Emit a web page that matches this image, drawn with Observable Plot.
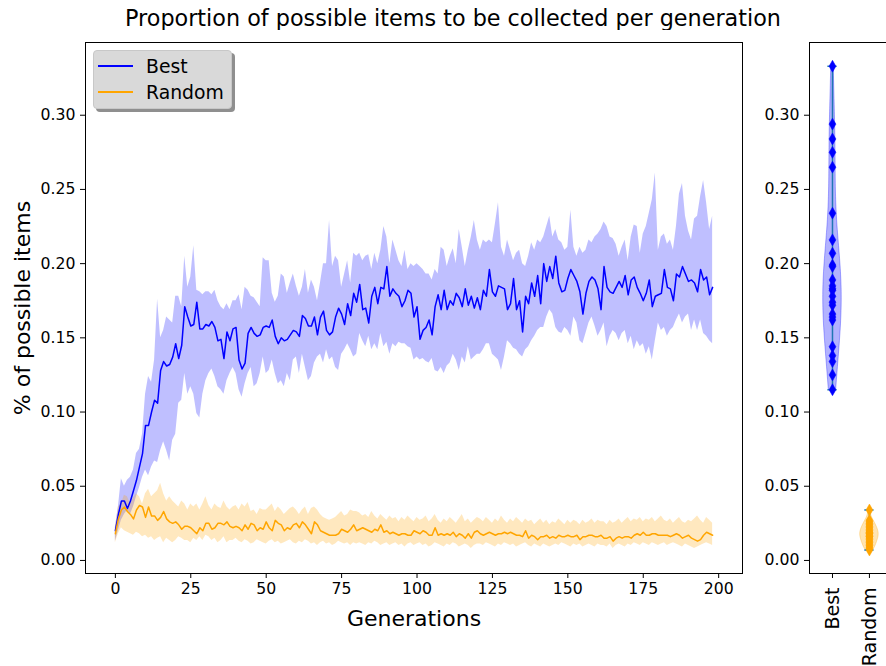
<!DOCTYPE html>
<html><head><meta charset="utf-8">
<script src="https://cdn.jsdelivr.net/npm/d3@7"></script>
<script src="https://cdn.jsdelivr.net/npm/@observablehq/plot@0.6"></script>
<style>
html,body{margin:0;padding:0;background:#fff;}
body{width:886px;height:666px;overflow:hidden;position:relative;font-family:"DejaVu Sans",sans-serif;color:#000;}
#title{position:absolute;left:10px;top:0;width:886px;text-align:center;font-size:22.3px;line-height:36px;white-space:nowrap;}
#main{position:absolute;left:0;top:30px;width:748px;}
#side{position:absolute;left:748px;top:30px;width:150px;}
#main svg,#side svg{max-width:none !important;}
#side g[aria-label="x-axis tick label"]{font-size:19px;}
#legend{position:absolute;left:93px;top:50px;width:137px;height:57px;background:#d9d9d9;border:1px solid #c8c8c8;border-radius:4px;box-shadow:3px 3px 0 #8f8f8f;font-size:18.8px;}
.row{position:absolute;left:4px;height:24px;display:flex;align-items:center;}
.sw{width:35px;height:2px;margin-right:13px;}
</style></head><body>
<div id="title">Proportion of possible items to be collected per generation</div>
<div id="main"></div>
<div id="side"></div>
<div id="legend"></div>
<script>
// ---- data: Best (mean, lower band, upper band) per generation ----
const bestMean = [
0.020,0.031,0.040,0.040,0.035,0.040,0.047,0.054,0.063,0.072,0.091,0.091,0.100,0.108,0.106,0.128,0.134,0.131,0.132,0.137,
0.146,0.136,0.145,0.171,0.164,0.158,0.159,0.174,0.156,0.156,0.159,0.158,0.161,0.157,0.148,0.149,0.136,0.154,0.148,0.156,0.157,
0.135,0.129,0.133,0.153,0.157,0.153,0.151,0.152,0.157,0.158,0.157,0.162,0.151,0.146,0.150,0.148,0.149,0.152,0.155,0.154,
0.151,0.165,0.163,0.158,0.158,0.164,0.152,0.164,0.168,0.155,0.152,0.154,0.164,0.170,0.166,0.159,0.173,0.165,0.180,0.174,
0.186,0.169,0.170,0.160,0.178,0.184,0.173,0.184,0.183,0.198,0.178,0.183,0.180,0.178,0.171,0.175,0.182,0.180,0.164,0.171,
0.149,0.155,0.157,0.162,0.152,0.171,0.179,0.169,0.182,0.169,0.175,0.172,0.180,0.177,0.171,0.183,0.172,0.178,0.170,0.177,
0.169,0.182,0.178,0.196,0.181,0.178,0.185,0.184,0.183,0.169,0.173,0.190,0.169,0.175,0.154,0.178,0.173,0.187,0.178,0.192,
0.173,0.200,0.188,0.198,0.190,0.205,0.187,0.181,0.182,0.190,0.196,0.192,0.188,0.181,0.166,0.180,0.188,0.191,0.189,0.183,0.169,
0.198,0.184,0.181,0.180,0.184,0.188,0.184,0.192,0.179,0.189,0.191,0.184,0.180,0.175,0.180,0.189,0.171,0.178,0.179,0.180,
0.196,0.184,0.183,0.175,0.193,0.191,0.198,0.193,0.188,0.189,0.187,0.181,0.196,0.189,0.191,0.179,0.184];
const bestLow = [
0.013,0.020,0.027,0.031,0.034,0.031,0.036,0.043,0.049,0.056,0.061,0.057,0.063,0.067,0.066,0.074,0.080,0.074,0.067,0.081,
0.085,0.106,0.108,0.126,0.112,0.117,0.112,0.099,0.096,0.112,0.121,0.126,0.129,0.124,0.117,0.115,0.112,0.121,0.126,0.130,0.126,
0.115,0.110,0.119,0.126,0.130,0.117,0.119,0.126,0.137,0.126,0.128,0.135,0.126,0.119,0.121,0.117,0.126,0.121,0.135,0.137,
0.126,0.139,0.130,0.121,0.124,0.133,0.137,0.139,0.133,0.142,0.135,0.137,0.130,0.128,0.139,0.142,0.146,0.142,0.137,0.139,
0.153,0.148,0.144,0.151,0.142,0.146,0.142,0.153,0.144,0.147,0.139,0.146,0.144,0.147,0.146,0.146,0.144,0.143,0.135,0.137,
0.135,0.136,0.134,0.133,0.136,0.128,0.127,0.130,0.126,0.131,0.133,0.139,0.135,0.128,0.137,0.133,0.144,0.135,0.137,0.139,
0.139,0.142,0.146,0.146,0.139,0.137,0.135,0.128,0.137,0.148,0.146,0.143,0.142,0.139,0.137,0.142,0.144,0.148,0.151,0.155,
0.157,0.157,0.164,0.169,0.166,0.157,0.154,0.153,0.157,0.155,0.151,0.164,0.160,0.148,0.146,0.153,0.160,0.164,0.158,0.151,0.155,
0.160,0.144,0.151,0.155,0.153,0.148,0.153,0.155,0.146,0.151,0.142,0.148,0.144,0.146,0.139,0.144,0.135,0.148,0.160,0.155,
0.157,0.151,0.155,0.157,0.162,0.166,0.160,0.164,0.166,0.155,0.162,0.155,0.162,0.153,0.151,0.148,0.146];
const bestHigh = [
0.022,0.036,0.055,0.050,0.054,0.056,0.061,0.072,0.075,0.085,0.112,0.124,0.120,0.135,0.176,0.150,0.155,0.164,0.162,0.160,
0.178,0.178,0.171,0.205,0.184,0.191,0.212,0.182,0.181,0.179,0.181,0.181,0.179,0.182,0.175,0.171,0.169,0.173,0.169,0.175,0.175,
0.179,0.169,0.184,0.182,0.178,0.177,0.174,0.171,0.204,0.202,0.202,0.180,0.174,0.178,0.193,0.191,0.180,0.187,0.193,0.185,
0.178,0.184,0.196,0.180,0.189,0.184,0.175,0.187,0.200,0.200,0.229,0.198,0.205,0.202,0.184,0.193,0.202,0.187,0.207,0.205,
0.207,0.202,0.205,0.206,0.196,0.207,0.200,0.209,0.225,0.218,0.200,0.216,0.209,0.202,0.198,0.209,0.196,0.200,0.198,0.200,
0.198,0.196,0.193,0.193,0.189,0.196,0.193,0.211,0.209,0.198,0.205,0.210,0.200,0.223,0.211,0.198,0.209,0.218,0.229,0.216,
0.209,0.216,0.214,0.216,0.214,0.227,0.241,0.211,0.205,0.216,0.209,0.202,0.207,0.209,0.200,0.198,0.205,0.214,0.209,0.216,
0.214,0.218,0.225,0.232,0.218,0.223,0.216,0.214,0.209,0.211,0.236,0.211,0.205,0.211,0.207,0.209,0.216,0.214,0.218,0.220,0.223,
0.228,0.225,0.218,0.217,0.213,0.205,0.211,0.216,0.202,0.218,0.226,0.225,0.207,0.220,0.225,0.234,0.243,0.261,0.209,0.218,
0.220,0.213,0.216,0.209,0.225,0.247,0.254,0.232,0.222,0.216,0.230,0.232,0.245,0.256,0.241,0.223,0.232];
// ---- data: Random (mean, lower band, upper band) per generation ----
const randMean = [
0.018,0.028,0.034,0.036,0.033,0.031,0.028,0.034,0.037,0.036,0.029,0.036,0.030,0.030,0.027,0.029,0.033,0.028,0.026,0.025,
0.026,0.024,0.021,0.023,0.023,0.022,0.020,0.018,0.022,0.020,0.025,0.025,0.021,0.022,0.025,0.025,0.024,0.026,0.023,0.022,0.023,
0.022,0.020,0.024,0.021,0.025,0.024,0.020,0.022,0.021,0.026,0.022,0.020,0.027,0.025,0.024,0.020,0.022,0.021,0.024,0.025,
0.022,0.026,0.024,0.021,0.018,0.026,0.024,0.020,0.019,0.018,0.017,0.017,0.017,0.018,0.021,0.020,0.019,0.021,0.024,0.020,
0.021,0.022,0.021,0.020,0.019,0.021,0.020,0.024,0.019,0.020,0.018,0.019,0.018,0.017,0.018,0.018,0.017,0.017,0.020,0.019,
0.018,0.020,0.019,0.017,0.017,0.022,0.017,0.018,0.017,0.018,0.017,0.019,0.016,0.018,0.017,0.015,0.018,0.015,0.019,0.020,
0.018,0.017,0.018,0.019,0.018,0.017,0.018,0.018,0.019,0.018,0.019,0.018,0.017,0.017,0.016,0.020,0.015,0.017,0.016,0.014,
0.016,0.016,0.017,0.015,0.016,0.015,0.017,0.016,0.016,0.017,0.016,0.016,0.017,0.014,0.016,0.016,0.017,0.017,0.016,0.016,0.017,
0.015,0.015,0.016,0.013,0.015,0.016,0.015,0.016,0.016,0.015,0.017,0.018,0.017,0.019,0.017,0.017,0.018,0.018,0.017,0.017,
0.017,0.017,0.016,0.017,0.018,0.017,0.015,0.016,0.017,0.015,0.014,0.013,0.014,0.017,0.019,0.018,0.017];
const randLow = [
0.012,0.018,0.022,0.020,0.019,0.018,0.017,0.019,0.018,0.016,0.017,0.015,0.016,0.0135,0.015,0.016,0.012,0.015,0.0135,0.012,
0.0135,0.016,0.015,0.0135,0.0135,0.012,0.015,0.0135,0.016,0.0135,0.017,0.016,0.0135,0.015,0.012,0.0135,0.016,0.012,0.0135,0.0135,0.015,
0.013,0.012,0.014,0.013,0.011,0.012,0.014,0.013,0.012,0.011,0.013,0.014,0.012,0.013,0.011,0.012,0.013,0.014,0.012,0.011,
0.013,0.012,0.014,0.013,0.011,0.012,0.010,0.012,0.013,0.011,0.012,0.010,0.011,0.013,0.012,0.011,0.012,0.010,0.012,0.011,
0.012,0.011,0.010,0.012,0.011,0.013,0.012,0.010,0.011,0.012,0.010,0.011,0.012,0.010,0.011,0.009,0.011,0.012,0.010,0.011,
0.012,0.010,0.011,0.009,0.010,0.012,0.011,0.010,0.009,0.011,0.010,0.012,0.011,0.009,0.010,0.011,0.010,0.008,0.010,0.011,
0.011,0.010,0.012,0.011,0.010,0.009,0.011,0.010,0.012,0.011,0.010,0.011,0.009,0.010,0.011,0.012,0.010,0.009,0.011,0.010,
0.009,0.011,0.010,0.009,0.010,0.011,0.010,0.012,0.011,0.010,0.009,0.011,0.010,0.011,0.009,0.010,0.011,0.010,0.009,0.011,0.010,
0.010,0.009,0.011,0.008,0.010,0.011,0.010,0.009,0.011,0.010,0.012,0.011,0.010,0.012,0.011,0.010,0.012,0.011,0.010,0.011,
0.012,0.010,0.011,0.012,0.011,0.010,0.009,0.011,0.010,0.009,0.008,0.009,0.010,0.011,0.012,0.011,0.010];
const randHigh = [
0.022,0.036,0.038,0.044,0.043,0.038,0.042,0.045,0.043,0.038,0.045,0.048,0.043,0.045,0.047,0.052,0.045,0.040,0.043,0.040,
0.038,0.036,0.040,0.038,0.034,0.038,0.036,0.038,0.034,0.038,0.043,0.037,0.034,0.038,0.036,0.035,0.040,0.036,0.034,0.036,0.037,
0.034,0.038,0.036,0.039,0.033,0.034,0.031,0.035,0.034,0.034,0.036,0.038,0.033,0.036,0.034,0.031,0.033,0.035,0.036,0.034,
0.031,0.034,0.036,0.031,0.035,0.036,0.034,0.031,0.029,0.028,0.027,0.028,0.029,0.031,0.033,0.030,0.031,0.034,0.033,0.033,
0.032,0.030,0.031,0.029,0.033,0.030,0.028,0.031,0.029,0.027,0.030,0.028,0.029,0.026,0.029,0.027,0.030,0.028,0.026,0.029,
0.027,0.028,0.030,0.026,0.028,0.031,0.027,0.025,0.028,0.026,0.029,0.027,0.025,0.028,0.031,0.026,0.028,0.025,0.027,0.029,
0.028,0.026,0.029,0.027,0.025,0.028,0.026,0.030,0.027,0.025,0.028,0.026,0.029,0.027,0.025,0.028,0.026,0.027,0.024,0.026,
0.028,0.025,0.027,0.024,0.026,0.025,0.028,0.026,0.024,0.027,0.025,0.027,0.026,0.024,0.027,0.025,0.026,0.028,0.025,0.027,0.026,
0.026,0.024,0.027,0.025,0.026,0.028,0.025,0.027,0.029,0.026,0.028,0.027,0.029,0.026,0.028,0.027,0.029,0.026,0.028,0.030,
0.027,0.026,0.028,0.025,0.027,0.029,0.026,0.025,0.027,0.026,0.028,0.030,0.027,0.025,0.029,0.027,0.025];
// ---- data: final distributions shown as violins ----
const categories = ["Best", "Random"];
const bestFinal = [0.333,0.294,0.284,0.275,0.265,0.234,0.216,0.207,0.199,0.198,0.189,0.185,0.183,0.182,0.178,0.174,0.172,0.166,0.164,0.162,0.144,0.138,0.134,0.125,0.115];
const randFinal = [0.034,0.027,0.026,0.025,0.024,0.023,0.022,0.021,0.020,0.019,0.019,0.018,0.018,0.017,0.016,0.016,0.015,0.014,0.013,0.012,0.011,0.010,0.009,0.008,0.007];
const xTicks = [0, 25, 50, 75, 100, 125, 150, 175, 200];
const yTicks = [0, 0.05, 0.10, 0.15, 0.20, 0.25, 0.30];

const yDomain = [-0.0088, 0.349];
const fmt = d3.format(".2f");
const font = {fontFamily: "DejaVu Sans", fontSize: "15.7px", color: "black", background: "white", overflow: "visible", maxWidth: "none"};

const rows = bestMean.map((m, i) => ({
  gen: i, bestMean: m, bestLow: bestLow[i], bestHigh: bestHigh[i],
  randMean: randMean[i], randLow: randLow[i], randHigh: randHigh[i]
}));

const main = Plot.plot({
  width: 748, height: 636,
  marginLeft: 85, marginRight: 6, marginTop: 12, marginBottom: 93,
  style: font,
  x: {domain: [-9.9, 207.9], ticks: xTicks, tickSize: 5, tickPadding: 4, label: null},
  y: {domain: yDomain, ticks: yTicks, tickFormat: fmt, tickSize: 5, tickPadding: 5, label: null},
  marks: [
    Plot.areaY(rows, {x: "gen", y1: "bestLow", y2: "bestHigh", fill: "blue", fillOpacity: 0.25}),
    Plot.areaY(rows, {x: "gen", y1: "randLow", y2: "randHigh", fill: "orange", fillOpacity: 0.25}),
    Plot.line(rows, {x: "gen", y: "bestMean", stroke: "blue", strokeWidth: 1.5}),
    Plot.line(rows, {x: "gen", y: "randMean", stroke: "orange", strokeWidth: 1.5}),
    Plot.frame({stroke: "black", strokeWidth: 1}),
    Plot.text(["Generations"], {frameAnchor: "bottom", dy: 45, textAnchor: "middle", lineAnchor: "middle", text: d => d, fontSize: 22, fill: "black"}),
    Plot.text(["% of possible items"], {frameAnchor: "left", dx: -63, rotate: -90, textAnchor: "middle", lineAnchor: "middle", text: d => d, fontSize: 22, fill: "black"})
  ]
});
document.getElementById("main").append(main);

function violin(values, pos) {
  const n = values.length;
  const bw = d3.deviation(values) * Math.pow(n, -1 / 5);
  const lo = d3.min(values), hi = d3.max(values);
  const ys = d3.range(100).map(i => lo + (hi - lo) * i / 99);
  const dens = ys.map(y => d3.sum(values, v => Math.exp(-0.5 * ((y - v) / bw) ** 2)));
  const m = d3.max(dens);
  return ys.map((y, i) => ({y, x1: pos - 0.25 * dens[i] / m, x2: pos + 0.25 * dens[i] / m}));
}
const vBest = violin(bestFinal, 1);
const vRand = violin(randFinal, 2);
const ext = [
  {x: 1, lo: d3.min(bestFinal), hi: d3.max(bestFinal)},
  {x: 2, lo: d3.min(randFinal), hi: d3.max(randFinal)}
];
const caps = ext.flatMap(e => [{x: e.x, y: e.lo}, {x: e.x, y: e.hi}]);

const side = Plot.plot({
  width: 142, height: 636,
  marginLeft: 61, marginRight: 0, marginTop: 12, marginBottom: 93,
  style: font,
  x: {domain: [0.378, 2.57], ticks: [1, 2], tickFormat: d => categories[d - 1], tickRotate: -90, tickSize: 5, tickPadding: 9, label: null},
  y: {domain: yDomain, ticks: yTicks, tickFormat: fmt, tickSize: 5, tickPadding: 5, label: null},
  marks: [
    Plot.areaX(vBest, {y: "y", x1: "x1", x2: "x2", fill: "blue", fillOpacity: 0.3, stroke: "blue", strokeOpacity: 0.3, strokeWidth: 1}),
    Plot.areaX(vRand, {y: "y", x1: "x1", x2: "x2", fill: "orange", fillOpacity: 0.3, stroke: "orange", strokeOpacity: 0.3, strokeWidth: 1}),
    Plot.ruleX(ext, {x: "x", y1: "lo", y2: "hi", stroke: "#1f77b4", strokeWidth: 1.5}),
    Plot.ruleY(caps, {y: "y", x1: d => d.x - 0.125, x2: d => d.x + 0.125, stroke: "#1f77b4", strokeWidth: 1.5}),
    Plot.dot(bestFinal, {x: () => 1, y: d => d, symbol: "diamond", r: 3.6, fill: "blue", stroke: "blue", strokeWidth: 0.5}),
    Plot.dot(randFinal, {x: () => 2, y: d => d, symbol: "diamond", r: 3.6, fill: "orange", stroke: "orange", strokeWidth: 0.5}),
    Plot.frame({stroke: "black", strokeWidth: 1})
  ]
});
document.getElementById("side").append(side);
side.querySelectorAll('g[aria-label="x-axis tick label"] text').forEach(t => t.setAttribute("font-size", "19"));

// legend
const legend = document.getElementById("legend");
[["Best", "blue", 3], ["Random", "orange", 29]].forEach(([name, color, top]) => {
  const row = document.createElement("div");
  row.className = "row";
  row.style.top = top + "px";
  const sw = document.createElement("div");
  sw.className = "sw";
  sw.style.background = color;
  const t = document.createElement("span");
  t.textContent = name;
  row.append(sw, t);
  legend.append(row);
});
</script>
</body></html>
